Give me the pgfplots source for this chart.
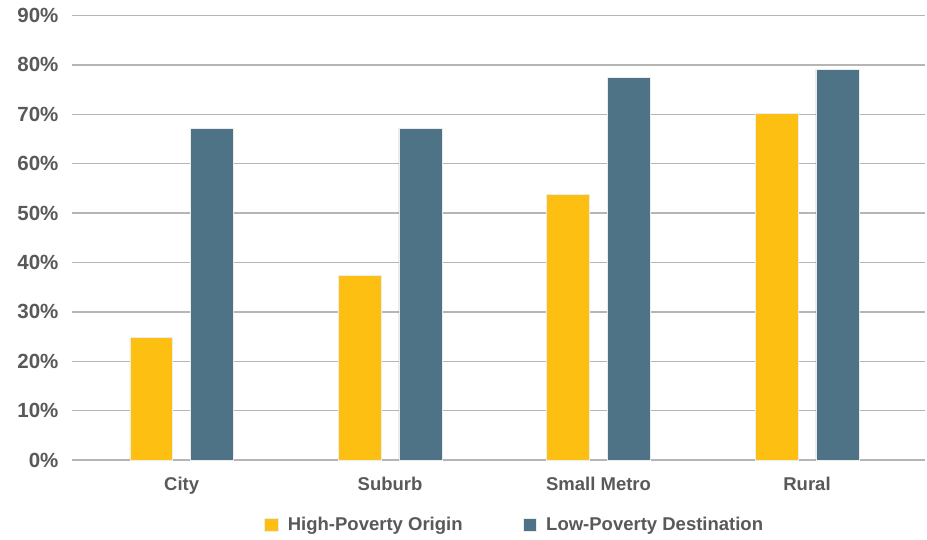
\documentclass[border=0pt]{standalone}
\usepackage{pgfplots}
\pgfplotsset{compat=1.18}
\usepackage{fontspec}
\setmainfont{Liberation Sans}
\definecolor{cOrange}{HTML}{FDBF11}
\definecolor{cBlue}{HTML}{4E7387}
\definecolor{cText}{HTML}{595959}
\definecolor{cGrid}{HTML}{B5B5B5}
\begin{document}
\begin{tikzpicture}
\path[use as bounding box] (-72pt,-79pt) rectangle (855pt,460pt);
\begin{axis}[
  scale only axis,
  width=853pt, height=444.5pt,
  xmin=-0.526, xmax=3.566,
  ymin=0, ymax=90,
  ytick={0,10,...,90},
  yticklabel={\pgfmathprintnumber{\tick}\%},
  /pgf/number format/assume math mode=true,
  xtick={0,1,2,3},
  xticklabels={City,Suburb,Small Metro,Rural},
  axis line style={draw=none},
  major tick length=0pt,
  ymajorgrids,
  grid style={cGrid, line width=1.4pt},
  tick label style={text=cText},
  yticklabel style={font=\fontsize{20.5}{22}\selectfont\bfseries, xshift=-10pt},
  xticklabel style={font=\fontsize{18.5}{20}\selectfont\bfseries, yshift=-14pt},
  ybar,
  bar width=0.206,
  legend style={at={(0.519,-0.146)}, anchor=center, draw=none, legend columns=2,
    font=\fontsize{18.5}{20}\selectfont\bfseries, text=cText,
    /tikz/every even column/.append style={column sep=58pt}},
  legend image code/.code={\fill[#1] (0pt,-6.5pt) rectangle (13.5pt,6.5pt); \path (21pt,0pt);},
]
\addplot[fill=cOrange, draw=white!85!gray, line width=0.6pt, bar shift=-0.1456] coordinates {(0,24.8) (1,37.4) (2,53.8) (3,70.2)};
\addplot[fill=cBlue, draw=white!85!gray, line width=0.6pt, bar shift=0.1456] coordinates {(0,67.1) (1,67.1) (2,77.4) (3,79.1)};
\legend{High-Poverty Origin, Low-Poverty Destination}
\end{axis}
\end{tikzpicture}
\end{document}
